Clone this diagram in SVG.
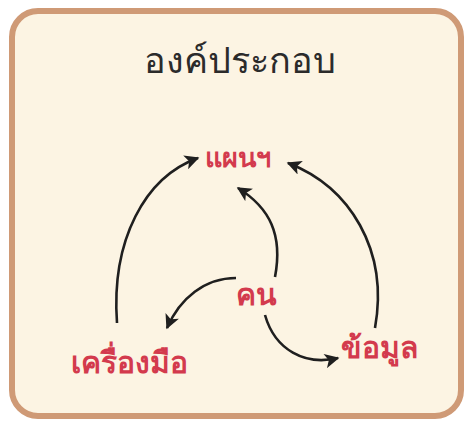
<svg xmlns="http://www.w3.org/2000/svg" width="469" height="421" viewBox="0 0 469 421">
<defs>
<style>
.lbl{font-family:"Noto Sans","DejaVu Sans",sans-serif;font-weight:bold;fill:#d33a4d;text-anchor:middle}
.title{font-family:"Noto Sans","DejaVu Sans",sans-serif;fill:#2b2b2b;text-anchor:middle}
.con{fill:none;stroke:#1f1f1f;stroke-width:2.6;marker-end:url(#ah)}
</style>
<marker id="ah" viewBox="0 0 10 10" refX="9" refY="5" markerWidth="6.2" markerHeight="5.6" orient="auto" markerUnits="strokeWidth">
<path d="M0,0 L10,5 L0,10 L2.5,5 Z" fill="#1f1f1f"/>
</marker>
</defs>
<rect width="469" height="421" fill="#ffffff"/>
<rect x="12" y="11" width="449" height="405" rx="26" fill="#fcf4e3" stroke="#cf9a76" stroke-width="6"/>
<text class="title" x="240" y="73" font-size="36">องค์ประกอบ</text>
<g id="connectors">
<path class="con" d="M117,323 C111,240 145,177 198,158"/>
<path class="con" d="M375,328 C389,250 350,187 288,163"/>
<path class="con" d="M275,277 C283,235 270,208 238,188"/>
<path class="con" d="M236,278 C205,278 180,298 167,328"/>
<path class="con" d="M265,315 C275,350 305,366 338,358"/>
</g>
<g id="plan"><text class="lbl" x="238" y="167" font-size="27">แผนฯ</text></g>
<g id="people"><text class="lbl" x="256" y="305" font-size="30">คน</text></g>
<g id="tools"><text class="lbl" x="129" y="373" font-size="30">เครื่องมือ</text></g>
<g id="data"><text class="lbl" x="379" y="358" font-size="30">ข้อมูล</text></g>
</svg>
